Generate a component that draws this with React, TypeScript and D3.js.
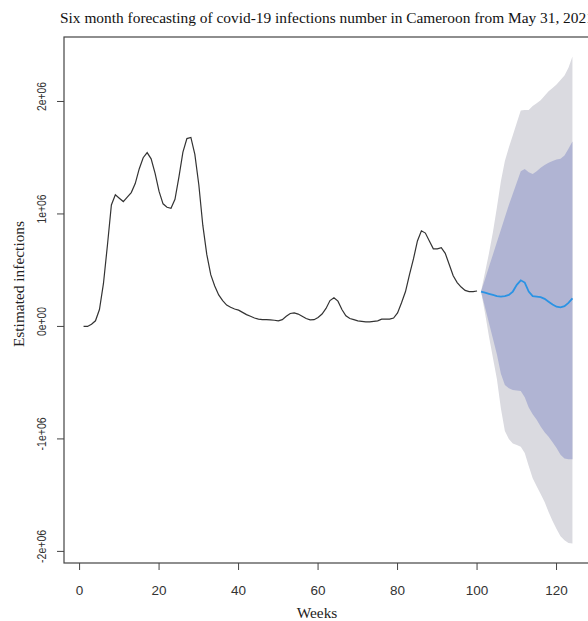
import React from 'react';
import * as d3 from 'd3';

// observed weekly estimates (millions), weeks 1..100
const observed = [
  0.0, 0.0, 0.02, 0.05, 0.15, 0.38, 0.72, 1.08, 1.17, 1.14,
  1.11, 1.15, 1.19, 1.27, 1.4, 1.5, 1.545, 1.49, 1.36, 1.2,
  1.09, 1.06, 1.05, 1.13, 1.33, 1.55, 1.67, 1.68, 1.53, 1.26,
  0.9, 0.64, 0.46, 0.36, 0.28, 0.23, 0.19, 0.17, 0.155, 0.145,
  0.125, 0.105, 0.09, 0.075, 0.065, 0.06, 0.06, 0.058, 0.055, 0.05,
  0.06, 0.09, 0.115, 0.12, 0.11, 0.09, 0.07, 0.058, 0.06, 0.08,
  0.11, 0.16, 0.23, 0.255, 0.225, 0.15, 0.095, 0.07, 0.06, 0.05,
  0.045, 0.04, 0.04, 0.045, 0.05, 0.065, 0.065, 0.065, 0.075, 0.12,
  0.21, 0.31, 0.46, 0.6, 0.76, 0.85, 0.83, 0.76, 0.69, 0.69,
  0.7, 0.65, 0.55, 0.45, 0.39, 0.35, 0.32, 0.31, 0.31, 0.315,
];

// forecast weeks 101..124 (millions)
const fcMean = [
  0.31, 0.3, 0.29, 0.28, 0.27, 0.265, 0.27, 0.28, 0.31, 0.37, 0.41, 0.39,
  0.31, 0.27, 0.265, 0.26, 0.245, 0.22, 0.195, 0.175, 0.17, 0.18, 0.21, 0.25,
];
const fcUpper95 = [
  0.31, 0.48, 0.65, 0.84, 1.06, 1.29, 1.47, 1.59, 1.7, 1.81, 1.92, 1.925,
  1.925, 1.96, 1.985, 2.01, 2.05, 2.09, 2.12, 2.15, 2.19, 2.23, 2.3, 2.4,
];
const fcUpper80 = [
  0.31, 0.42, 0.53, 0.64, 0.75, 0.86, 0.97, 1.08, 1.18, 1.28, 1.38, 1.4,
  1.37, 1.355, 1.38, 1.41, 1.435, 1.455, 1.47, 1.485, 1.49, 1.52, 1.58, 1.645,
];
const fcLower80 = [
  0.31, 0.17, 0.03, -0.11, -0.25, -0.42, -0.52, -0.55, -0.565, -0.57, -0.575, -0.63,
  -0.72, -0.78, -0.83, -0.89, -0.94, -0.98, -1.03, -1.08, -1.14, -1.175, -1.18, -1.18,
];
const fcLower95 = [
  0.31, 0.12, -0.09, -0.28, -0.47, -0.73, -0.93, -1.0, -1.04, -1.055, -1.07, -1.125,
  -1.24, -1.35, -1.42, -1.49, -1.56, -1.65, -1.73, -1.8, -1.865, -1.9, -1.925, -1.93,
];

const xTicks = [0, 20, 40, 60, 80, 100, 120];
const yTicks = [-2e6, -1e6, 0, 1e6, 2e6];
const yTickLabels = ['-2e+06', '-1e+06', '0e+00', '1e+06', '2e+06'];

const title = 'Six month forecasting of covid-19 infections number in Cameroon from May 31, 2021';

export default function App() {
  const width = 588;
  const height = 621;
  const left = 64, right = 592, top = 37, bottom = 563;

  const obs = observed.map((v, i) => ({ w: i + 1, v: v * 1e6 }));
  const fc = fcMean.map((v, i) => ({
    w: i + 101,
    m: v * 1e6,
    u95: fcUpper95[i] * 1e6,
    u80: fcUpper80[i] * 1e6,
    l80: fcLower80[i] * 1e6,
    l95: fcLower95[i] * 1e6,
  }));

  // R style 4% axis extension
  const xmin = 1, xmax = 124;
  const xpad = (xmax - xmin) * 0.04;
  const ymin = d3.min(fc, d => d.l95)!;
  const ymax = d3.max(fc, d => d.u95)!;
  const ypad = (ymax - ymin) * 0.04;

  const x = d3.scaleLinear().domain([xmin - xpad, xmax + xpad]).range([left, right]);
  const y = d3.scaleLinear().domain([ymin - ypad, ymax + ypad]).range([bottom, top]);

  const line = d3.line<{ w: number; v: number }>()
    .x(d => x(d.w))
    .y(d => y(d.v));
  const fcLine = d3.line<typeof fc[0]>()
    .x(d => x(d.w))
    .y(d => y(d.m));
  const band95 = d3.area<typeof fc[0]>()
    .x(d => x(d.w))
    .y0(d => y(d.l95))
    .y1(d => y(d.u95));
  const band80 = d3.area<typeof fc[0]>()
    .x(d => x(d.w))
    .y0(d => y(d.l80))
    .y1(d => y(d.u80));

  const axisColor = '#444';
  const sans = '"Liberation Sans", Arial, sans-serif';
  const serif = '"Liberation Serif", "Times New Roman", serif';

  return (
    <svg width={width} height={height}
      style={{ position: 'absolute', left: 0, top: 0, background: '#fff' }}>
      <rect x={0} y={0} width={width} height={height} fill="#fff" />
      <text x={60} y={23} fontFamily={serif} fontSize={15.4} fill="#111">{title}</text>

      <path d={band95(fc)!} fill="#dadae0" />
      <path d={band80(fc)!} fill="#b0b4d3" />
      <path d={line(obs)!} fill="none" stroke="#333" strokeWidth={1.2} />
      <path d={fcLine(fc)!} fill="none" stroke="#2a93e4" strokeWidth={1.8} />

      <rect x={left} y={top} width={right - left} height={bottom - top}
        fill="none" stroke={axisColor} strokeWidth={1.2} />

      {xTicks.map(t => (
        <g key={t}>
          <line x1={x(t)} x2={x(t)} y1={bottom} y2={bottom + 7} stroke={axisColor} />
          <text x={x(t)} y={595} textAnchor="middle" fontFamily={sans}
            fontSize={13.5} fill="#333">{t}</text>
        </g>
      ))}
      {yTicks.map((t, i) => (
        <g key={t}>
          <line x1={left - 7} x2={left} y1={y(t)} y2={y(t)} stroke={axisColor} />
          <text transform={`translate(46,${y(t) - 5}) rotate(-90)`} textAnchor="middle"
            fontFamily={sans} fontSize={12.5} fill="#333"
            textLength={yTickLabels[i].length > 5 ? 33 : 29}
            lengthAdjust="spacingAndGlyphs">{yTickLabels[i]}</text>
        </g>
      ))}

      <text x={317} y={618} textAnchor="middle" fontFamily={serif}
        fontSize={15.4} fill="#222">Weeks</text>
      <text transform={`translate(24,284) rotate(-90)`} textAnchor="middle"
        fontFamily={serif} fontSize={15.4} fill="#222">Estimated infections</text>
    </svg>
  );
}
